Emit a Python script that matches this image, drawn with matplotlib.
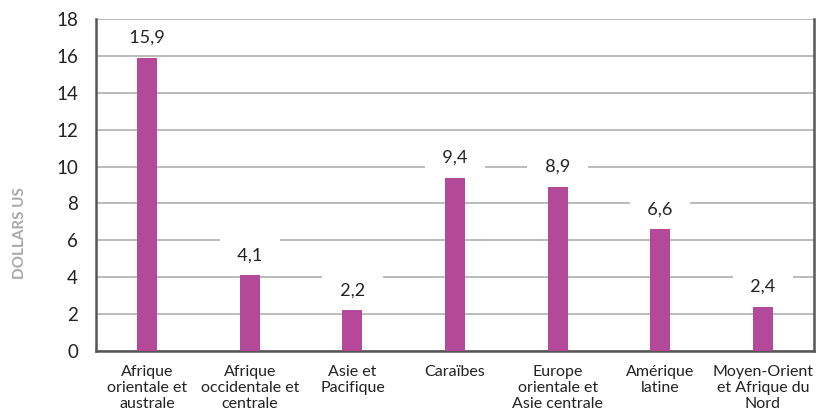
import numpy as np
import matplotlib.pyplot as plt

plt.rcParams['font.family'] = ['Lato', 'DejaVu Sans']

# Régions et valeurs (dollars US)
regions = ['Afrique\norientale et\naustrale', 'Afrique\noccidentale et\ncentrale',
           'Asie et\nPacifique', 'Caraïbes', 'Europe\norientale et\nAsie centrale',
           'Amérique\nlatine', 'Moyen-Orient\net Afrique du\nNord']
valeurs = [15.9, 4.1, 2.2, 9.4, 8.9, 6.6, 2.4]
yticks = [0, 2, 4, 6, 8, 10, 12, 14, 16, 18]

bar_color = '#B4499A'
text_color = '#222222'

fig = plt.figure(figsize=(8.16, 4.18), dpi=100)
ax = fig.add_axes([0.1176, 0.1603, 0.88, 0.7942])

x = np.arange(len(regions))
ax.bar(x, valeurs, width=0.195, color=bar_color, zorder=3)

# Étiquettes de valeur avec fond blanc qui coupe le quadrillage
for xi, v in zip(x, valeurs):
    lbl = '{:.1f}'.format(v).replace('.', ',')
    ax.annotate('  ' + lbl + '  ', (xi, v), xytext=(0, 14.4), textcoords='offset points',
                ha='center', va='center', fontsize=13, color=text_color, zorder=4,
                bbox=dict(boxstyle='square,pad=0.47', fc='white', ec='none'))

ax.set_xlim(-0.5, len(regions) - 0.5)
ax.set_ylim(0, 18)
ax.set_yticks(yticks)
ax.set_yticklabels([str(t) for t in yticks], fontsize=13.5, color=text_color)
ax.set_xticks(x)
ax.set_xticklabels(regions, fontsize=11.5, color=text_color, linespacing=1.2)
ax.tick_params(axis='y', length=0, pad=13)
ax.tick_params(axis='x', length=0, pad=10)

ax.yaxis.grid(True, color='#a8a8a8', linewidth=1.1, zorder=0)
ax.set_axisbelow(True)

for side in ['left', 'bottom', 'right']:
    ax.spines[side].set_color('#555555')
    ax.spines[side].set_linewidth(1.8)
ax.spines['top'].set_visible(False)

fig.text(0.025, 0.4426, 'DOLLARS US', rotation=90, ha='center', va='center',
         fontsize=11, fontweight='bold', color='#a8a8a8')

plt.savefig('out.png', dpi=100)
